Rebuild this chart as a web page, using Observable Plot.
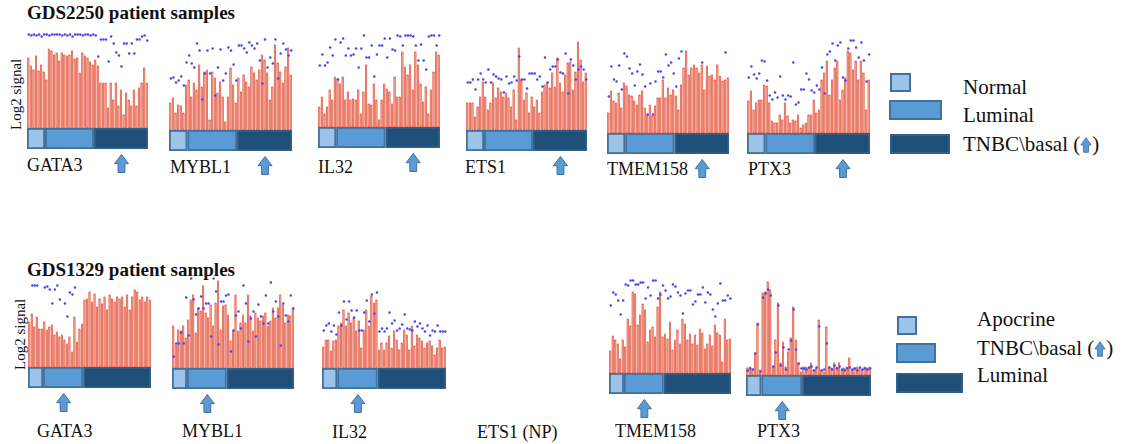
<!DOCTYPE html>
<html><head><meta charset="utf-8">
<script src="https://cdn.jsdelivr.net/npm/d3@7"></script>
<script src="https://cdn.jsdelivr.net/npm/@observablehq/plot@0.6"></script>
<style>
body{margin:0;background:#fff;}
#root{position:relative;width:1124px;height:444px;overflow:hidden;font-family:"Liberation Serif","Times New Roman",Times,serif;color:#111;}
.abs{position:absolute;white-space:nowrap;line-height:1;font-family:"Liberation Serif","Times New Roman",Times,serif;}
.panel{position:absolute;}
.box{position:absolute;box-sizing:border-box;border:2px solid #41719c;}
</style></head><body><div id="root"></div>
<script>
// ---------------- data ----------------
const titles = ["GDS2250 patient samples", "GDS1329 patient samples"];
const genes = ["GATA3", "MYBL1", "IL32", "ETS1", "TMEM158", "PTX3"];
const groupsTop = ["Normal", "Luminal", "TNBC\\basal"];
const groupsBottom = ["Apocrine", "TNBC\\basal", "Luminal"];
const countsTop = [7, 19, 21];
const countsBottom = [6, 16, 27];
const highlightTop = 2;     // arrow group (TNBC\basal)
const highlightBottom = 1;

// GDS2250 – bar heights (log2 signal, relative) and rank dots
const t_GATA3 = [70,62,58,72,57,63,56, 48,79,77,73,75,67,75,73,72,73,77,69,70,55,75,72,70,66,63, 68,62,45,45,45,20,45,28,45,22,38,13,35,28,22,38,22,40,45,60,45];
const t_GATA3_rank = [94,93,94,93,94,92,94, 94,93,94,94,94,94,93,94,93,94,92,94,94,94,93,94,94,93,94, 93,72,89,89,89,67,92,85,76,73,62,85,85,75,85,75,89,89,92,93,88];
const t_MYBL1 = [27,32,17,25,24,17,45, 50,33,47,40,65,43,58,60,10,58,52,37,48,33,8,33,62,45,27, 52,38,55,48,43,63,57,50,60,75,70,57,30,43,85,67,58,47,63,82,55];
const t_MYBL1_rank = [52,53,48,50,54,45,68, 75,67,63,87,80,31,57,80,57,82,35,63,81,50,57,83,80,66,50, 85,85,82,78,88,85,82,87,70,47,91,63,73,67,91,52,77,87,81,75,80];
const t_IL32 = [20,30,13,20,37,27,50, 48,43,50,27,35,27,28,27,37,13,35,62,23,22,43,27,7,27,43, 38,35,23,50,30,30,75,60,52,62,37,75,62,43,25,40,13,37,55,75,72];
const t_IL32_rank = [62,73,62,65,80,72,88,48,85,89,72,79,72,73,79,60,79,92,70,70,82,51,73,82,82,89,70,89,78,77,92,91,82,92,92,92,91,82,67,83,67,58,91,92,92,82,92];
const t_ETS1 = [27,27,27,13,23,33,48, 33,20,27,47,32,42,38,33,37,32,23,40,10,82,50,30,37,17,33, 23,30,17,38,45,47,42,57,43,72,47,38,55,67,68,40,58,88,70,48,57];
const t_ETS1_rank = [48,48,51,41,51,57,51,48,61,48,56,54,52,51,38,54,47,48,54,50,74,51,51,42,57,57,57,51,54,44,73,48,61,64,64,71,58,57,77,37,71,65,51,61,64,61,51];
const t_TMEM158 = [20,42,32,30,40,25,50, 47,38,37,32,28,38,42,25,18,28,17,27,35,35,53,35,45,38,43, 37,23,48,65,82,58,65,68,65,60,68,43,67,57,58,53,68,57,52,53,55];
const t_TMEM158_rank = [37,67,54,52,68,44,80, 77,65,60,48,62,69,59,47,19,50,19,52,62,62,56,79,68,71,60, 47,75,82,null,null,null,null,null,null,null,71,null,null,null,null,null,null,null,null,81,null];
const t_PTX3 = [32,42,23,30,33,33,48, 47,30,12,10,10,18,13,30,17,10,13,12,18,5,8,10,18,18,33, 20,23,53,60,72,38,53,65,72,33,43,55,82,80,63,72,53,72,60,23,53];
const t_PTX3_rank = [56,67,59,55,60,73,72,53,38,34,41,36,57,38,34,38,37,71,29,31,44,44,60,54,43,41,48,44,66,40,79,82,90,73,88,91,56,53,85,93,93,86,76,91,73,52,79];

// GDS1329 – bar heights and rank dots
const b_GATA3 = [45,53,40,50,38,38, 45,37,40,42,32,35,30,32,27,23,30,15,50,25,38,43, 67,68,75,65,73,60,68,63,70,57,72,68,65,70,68,70,60,72,57,70,77,75,67,70,65,70,67];
const b_GATA3_rank = [null,82,82,82,null,null,80,81,78,64,78,82,68,null,64,51,75,73,80, null,null,null,null,null,null,null,null,null,null,null,null,null,null,null,null,null,null,null,null,null,null,null,null,null,null,null,null,null,null];
const b_MYBL1 = [42,23,38,37,42,30, 48,68,73,35,60,57,82,55,50,63,42,65,87,38,62,63, 53,27,37,73,37,45,53,45,73,52,37,55,50,47,52,55,42,47,60,50,60,73,63,45,53,52,60];
const b_MYBL1_rank = [12,25,25,36,25,71,33,90,69,54,60,72,60,65,65,32,90,77,24,67,67,73,74,17,38,53,57,40,83,65,27,50,57,32,64,52,45,73,45,86,57,67,52,23,65,53,47,73,60];
const b_IL32 = [21,28,28,17,27,28, 42,45,58,42,55,45,50,37,47,20,38,58,42,72,65,68, 18,25,18,25,32,20,37,28,18,25,38,33,18,42,22,33,30,27,20,25,27,22,13,20,28,20,21];
const b_IL32_rank = [38,43,45,37,43,34,56,43,67,49,67,58,51,58,38,38,56,68,47,74,55,76,37,40,37,40,56,45,48,38,40,44,54,40,39,38,47,42,45,40,37,43,33,38,37,43,37,37,37];
const b_TMEM158 = [22,37,33,29,14,33, 26,54,47,81,79,48,58,69,63,31,43,46,36,66,81,36, 39,34,51,23,33,43,29,54,49,33,39,29,38,28,44,40,24,29,38,27,48,40,38,11,54,33,34];
const b_TMEM158_rank = [68,81,79,73,59,73,89,88,93,93,89,89,91,91,75,86,78,93,93,75,79,88,83,75,77,89,87,81,78,60,80,83,83,69,72,79,79,86,71,81,79,64,57,70,90,73,73,78,75];
const b_PTX3 = [7,8,5,22,52,5, 82,83,93,85,8,35,72,12,33,8,23,37,68,35,12,3, 8,8,7,12,5,7,55,5,3,48,8,7,12,8,12,5,7,8,17,5,7,8,7,5,8,7,8];
const b_PTX3_rank = [5,7,6,22,51,4, 78,82,86,80,9,23,70,10,28,6,26,35,66,26,12,7, 7,6,8,9,5,8,49,5,6,32,8,6,10,7,9,6,5,7,8,6,7,5,8,6,7,6,7];

// ---------------- styling / layout ----------------
const groupFill = ["#9dc3e6", "#5b9bd5", "#1f4e79"];
const groupStroke = ["#41719c", "#41719c", "#2f5f8a"];
const root = document.getElementById("root");

const arrowSymbol = {
  draw(ctx, size) {
    const r = Math.sqrt(size / Math.PI);
    const hw = r * 0.78, sw = r * 0.38, hy = r * 0.02;
    ctx.moveTo(0, -r); ctx.lineTo(hw, hy); ctx.lineTo(sw, hy); ctx.lineTo(sw, r);
    ctx.lineTo(-sw, r); ctx.lineTo(-sw, hy); ctx.lineTo(-hw, hy); ctx.closePath();
  }
};

function panel(bars, ranks, counts, hi, w) {
  const data = bars.map((v, i) => ({i, v, p: ranks[i]}));
  const bounds = []; let s = 0;
  counts.forEach((c, k) => { bounds.push({k, start: s, end: s + c}); s += c; });
  return Plot.plot({
    width: w, height: 140, margin: 0,
    x: {domain: [0, s], axis: null},
    y: {domain: [-45, 95], axis: null},
    color: {type: "identity"},
    style: {overflow: "visible", background: "transparent"},
    marks: [
      Plot.rect(data, {x1: "i", x2: d => d.i + 1, y1: 0, y2: "v", fill: "#f6b0a2", stroke: "#e04a33", strokeWidth: 0.65, insetLeft: 0.6, insetRight: 0.6}),
      Plot.dot(data.filter(d => d.p != null), {x: d => d.i + 0.5, y: "p", r: 1.25, fill: "#4646f5", stroke: "none"}),
      Plot.rect(bounds, {x1: "start", x2: "end", y1: -21, y2: 0, fill: d => groupFill[d.k], stroke: d => groupStroke[d.k], strokeWidth: 1.8, inset: 0.9}),
      Plot.dot([bounds[hi]], {x: d => (d.start + d.end) / 2, y: -35, symbol: arrowSymbol, r: 9, fill: "#5b9bd5", stroke: "#41719c", strokeWidth: 1})
    ]
  });
}

function addPanel(svg, left, baseline) {
  const d = document.createElement("div");
  d.className = "panel"; d.style.left = left + "px"; d.style.top = (baseline - 95) + "px";
  d.appendChild(svg); root.appendChild(d);
}
function text(str, x, baseline, fs, extra) {
  const d = document.createElement("div");
  d.className = "abs"; d.textContent = str;
  d.style.left = x + "px"; d.style.top = (baseline - 0.84 * fs) + "px"; d.style.fontSize = fs + "px";
  if (extra) Object.assign(d.style, extra);
  root.appendChild(d); return d;
}
function ylabel(x, y) {
  const fs = 15;
  const d = document.createElement("div");
  d.className = "abs"; d.textContent = "Log2 signal"; d.style.fontSize = fs + "px";
  d.style.left = (x - 0.84 * fs) + "px"; d.style.top = y + "px";
  d.style.transformOrigin = "0 0"; d.style.transform = "rotate(-90deg)";
  root.appendChild(d);
}
function box(x, y, w, h, k) {
  const d = document.createElement("div");
  d.className = "box"; Object.assign(d.style, {left: x + "px", top: y + "px", width: w + "px", height: h + "px", background: groupFill[k], borderColor: groupStroke[k]});
  root.appendChild(d);
}
const arrowSvg = '<svg width="12" height="16" viewBox="-7 -9 14 18" style="vertical-align:-2px"><path d="M0,-8.5L6,0L3,0L3,8.5L-3,8.5L-3,0L-6,0Z" fill="#5b9bd5" stroke="#41719c" stroke-width="1"/></svg>';

// titles
text(titles[0], 27, 19, 19, {fontWeight: "bold"});
text(titles[1], 27, 276, 19, {fontWeight: "bold"});
ylabel(22, 130);
ylabel(26, 370);

// top row
const topBars = [t_GATA3, t_MYBL1, t_IL32, t_ETS1, t_TMEM158, t_PTX3];
const topRanks = [t_GATA3_rank, t_MYBL1_rank, t_IL32_rank, t_ETS1_rank, t_TMEM158_rank, t_PTX3_rank];
const topLayout = [[27,128,121],[169,130,123],[318,127,122],[466,130,121],[607,133,122],[747,133,123]];
const topLabels = [[27,171],[170,173],[318,173],[465,173],[607,175],[748,175]];
topBars.forEach((b, i) => {
  const [l, base, w] = topLayout[i];
  addPanel(panel(b, topRanks[i], countsTop, highlightTop, w), l, base);
  text(genes[i], topLabels[i][0], topLabels[i][1], 18);
});

// bottom row (ETS1 not present)
const botBars = [b_GATA3, b_MYBL1, b_IL32, null, b_TMEM158, b_PTX3];
const botRanks = [b_GATA3_rank, b_MYBL1_rank, b_IL32_rank, null, b_TMEM158_rank, b_PTX3_rank];
const botLayout = [[28,367,123],[172,368,122],[322,368,124],null,[609,373,122],[746,375,125]];
const botLabels = [[37,437],[182,437],[332,438],[477,438],[615,437],[757,437]];
botBars.forEach((b, i) => {
  if (b) {
    const [l, base, w] = botLayout[i];
    addPanel(panel(b, botRanks[i], countsBottom, highlightBottom, w), l, base);
    text(genes[i], botLabels[i][0], botLabels[i][1], 18);
  } else {
    text(genes[i] + " (NP)", botLabels[i][0], botLabels[i][1], 18);
  }
});

// legends
box(890, 73, 21, 19, 0); box(889, 100, 53, 20, 1); box(890, 134, 60, 20, 2);
text(groupsTop[0], 963, 95, 21);
text(groupsTop[1], 963, 123, 21);
text(groupsTop[2], 963, 152, 21).innerHTML = "TNBC\\basal&nbsp;(" + arrowSvg + ")";

box(897, 316, 20, 19, 0); box(896, 343, 40, 20, 1); box(896, 373, 67, 20, 2);
text(groupsBottom[0], 977, 327, 21);
text(groupsBottom[1], 977, 356, 21).innerHTML = "TNBC\\basal&nbsp;(" + arrowSvg + ")";
text(groupsBottom[2], 977, 383, 21);
</script></body></html>
